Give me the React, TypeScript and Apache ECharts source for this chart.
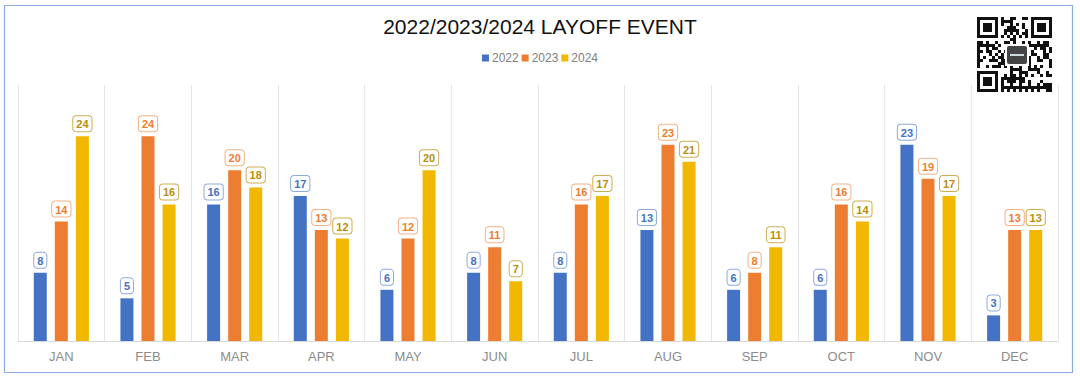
import React, { useEffect, useRef } from "react";
import * as echarts from "echarts";

const months = ["JAN", "FEB", "MAR", "APR", "MAY", "JUN", "JUL", "AUG", "SEP", "OCT", "NOV", "DEC"];
const series2022 = [8, 5, 16, 17, 6, 8, 8, 13, 6, 6, 23, 3];
const series2023 = [14, 24, 20, 13, 12, 11, 16, 23, 8, 16, 19, 13];
const series2024 = [24, 16, 18, 12, 20, 7, 17, 21, 11, 14, 17, 13];
const seriesNames = ["2022", "2023", "2024"];
const barColors = ["#4472C4", "#ED7D31", "#F2B800"];
const labelText = ["#4472C4", "#ED7D31", "#B8900A"];
const labelBorder = ["#8FAADC", "#F4B183", "#CDAE52"];

function qrModules(): any[] {
  const n = 25;
  const s = 3;
  const x0 = 977;
  const y0 = 17;
  const els: any[] = [];
  const inFinder = (r: number, c: number) =>
    (r < 8 && c < 8) || (r < 8 && c >= n - 8) || (r >= n - 8 && c < 8);
  const finder = (fr: number, fc: number) => {
    els.push({ type: "rect", shape: { x: x0 + fc * s, y: y0 + fr * s, width: 7 * s, height: 7 * s }, style: { fill: "#111" } });
    els.push({ type: "rect", shape: { x: x0 + (fc + 1) * s, y: y0 + (fr + 1) * s, width: 5 * s, height: 5 * s }, style: { fill: "#fff" } });
    els.push({ type: "rect", shape: { x: x0 + (fc + 2) * s, y: y0 + (fr + 2) * s, width: 3 * s, height: 3 * s }, style: { fill: "#111" } });
  };
  for (let r = 0; r < n; r++) {
    for (let c = 0; c < n; c++) {
      if (inFinder(r, c)) continue;
      let on = false;
      if (r === 6) on = c % 2 === 0;
      else if (c === 6) on = r % 2 === 0;
      else on = ((r * 17 + c * 31 + r * c * 7 + (r ^ c) * 5) % 11) < 5;
      if (on) {
        els.push({ type: "rect", shape: { x: x0 + c * s, y: y0 + r * s, width: s, height: s }, style: { fill: "#111" } });
      }
    }
  }
  finder(0, 0);
  finder(0, n - 7);
  finder(n - 7, 0);
  els.push({ type: "rect", shape: { x: 1005, y: 44, width: 24, height: 22 }, style: { fill: "#fff" } });
  els.push({ type: "rect", shape: { x: 1007, y: 46, width: 20, height: 18, r: 2 }, style: { fill: "#444" } });
  els.push({ type: "rect", shape: { x: 1010, y: 54, width: 14, height: 2 }, style: { fill: "#cfd8dc" } });
  return els;
}

export default function App() {
  const ref = useRef<HTMLDivElement>(null);
  useEffect(() => {
    if (!ref.current) return;
    const chart = echarts.init(ref.current, undefined, { renderer: "svg" });
    const data = [series2022, series2023, series2024];
    chart.setOption({
      animation: false,
      backgroundColor: "#ffffff",
      title: {
        text: "2022/2023/2024 LAYOFF EVENT",
        left: "center",
        top: 11,
        textStyle: { fontFamily: "Arial, Liberation Sans", fontSize: 21, fontWeight: "normal", color: "#111111" },
      },
      legend: {
        data: seriesNames,
        top: 47,
        left: "center",
        itemWidth: 7,
        itemHeight: 7,
        itemGap: 3,
        icon: "rect",
        textStyle: { fontFamily: "Arial, Liberation Sans", fontSize: 12, color: "#808080", padding: [0, 0, 0, -2] },
      },
      grid: { left: 18, right: 22, top: 85, bottom: 38, containLabel: false },
      xAxis: {
        type: "category",
        data: months,
        axisLine: { lineStyle: { color: "#d9d9d9", width: 1 } },
        axisTick: { show: false },
        axisLabel: { color: "#8c8c8c", fontSize: 13, margin: 9, fontFamily: "Arial, Liberation Sans" },
        splitLine: { show: true, interval: 0, lineStyle: { color: "#e4e4e4", width: 1 } },
      },
      yAxis: {
        type: "value",
        min: 0,
        max: 30,
        show: false,
        splitLine: { show: false },
      },
      series: seriesNames.map((name, i) => ({
        name,
        type: "bar",
        data: data[i],
        barWidth: 13,
        barGap: "62%",
        itemStyle: { color: barColors[i] },
        label: {
          show: true,
          position: "top",
          distance: 5,
          color: labelText[i],
          fontSize: 11,
          fontWeight: "bold",
          fontFamily: "Arial, Liberation Sans",
          backgroundColor: "#ffffff",
          borderColor: labelBorder[i],
          borderWidth: 1,
          borderRadius: 3,
          padding: [2, 3, 1, 3],
          lineHeight: 12,
        },
      })),
      graphic: [
        {
          type: "rect",
          shape: { x: 4.5, y: 5.5, width: 1068, height: 367 },
          style: { fill: "none", stroke: "#8FAADC", lineWidth: 1.2 },
          silent: true,
          z: 100,
        },
        { type: "group", children: qrModules(), silent: true },
      ],
    });
    return () => chart.dispose();
  }, []);
  return (
    <div
      ref={ref}
      style={{ position: "absolute", left: 0, top: 0, width: 1080, height: 379 }}
    />
  );
}
